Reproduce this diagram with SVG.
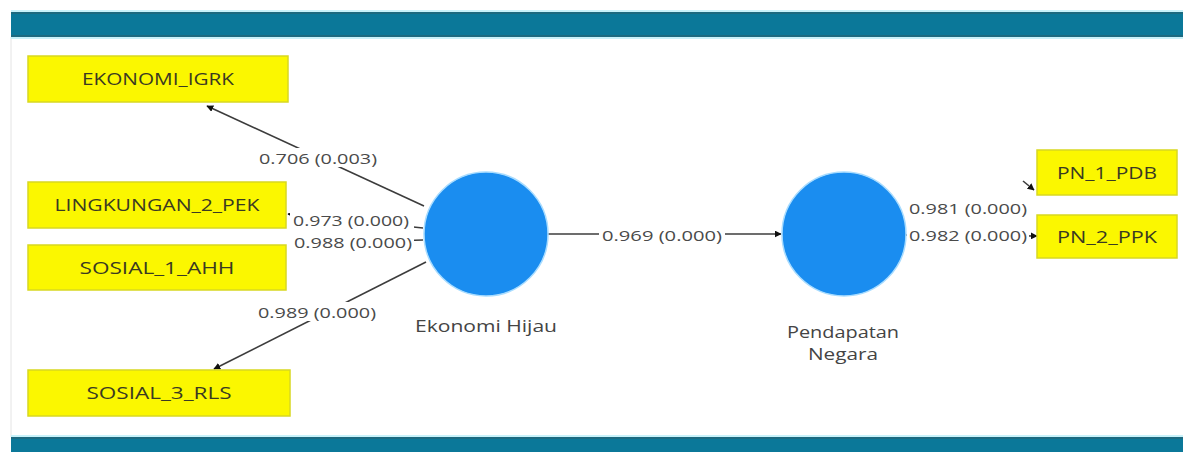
<svg xmlns="http://www.w3.org/2000/svg" width="1183" height="452" viewBox="0 0 1183 452">
<defs>
<style>
.bar{fill:#0b7899}
.box{fill:#fbf700;stroke:#d8d820;stroke-width:1.5}
.btxt{font-family:"Open Sans","Liberation Sans",sans-serif;font-size:16px;fill:#3a3a22;text-anchor:middle;dominant-baseline:central}
.lv{fill:#1a8df0;stroke:#a8dcff;stroke-width:1.5}
.ltxt{font-family:"Open Sans","Liberation Sans",sans-serif;font-size:16px;fill:#444;text-anchor:middle;dominant-baseline:central}
.etxt{font-family:"Open Sans","Liberation Sans",sans-serif;font-size:15px;fill:#4a4a4a;text-anchor:middle;dominant-baseline:central}
.edge{stroke:#3c3c3c;stroke-width:1.6;fill:none}
.lbg{fill:#ffffff}
</style>
<marker id="ah" viewBox="0 0 10 10" refX="9" refY="5" markerWidth="7" markerHeight="7" orient="auto" markerUnits="userSpaceOnUse">
<path d="M0,0 L10,5 L0,10 z" fill="#111"/>
</marker>
</defs>
<rect x="0" y="0" width="1183" height="452" fill="#ffffff"/>
<line x1="11" y1="37" x2="11" y2="437" stroke="#e4e4e4" stroke-width="1"/>
<g id="topbar">
<rect x="11" y="10" width="1172" height="2" fill="#c8f2fa"/>
<rect class="bar" x="11" y="12" width="1172" height="25"/>
<rect x="11" y="12" width="1172" height="2" fill="#1d6a80"/>
<rect x="11" y="35" width="1172" height="2" fill="#1d6a80"/>
<rect x="11" y="37" width="1172" height="2" fill="#c8f2fa"/>
</g>
<g id="bottombar">
<rect x="11" y="435" width="1172" height="2" fill="#c8f2fa"/>
<rect class="bar" x="11" y="437" width="1172" height="15"/>
<rect x="11" y="437" width="1172" height="2" fill="#1d6a80"/>
</g>
<g id="connectors">
<line class="edge" x1="424" y1="206" x2="207" y2="106" marker-end="url(#ah)"/>
<line class="edge" x1="423" y1="228" x2="288" y2="214" marker-end="url(#ah)"/>
<line class="edge" x1="423" y1="240" x2="292" y2="244" marker-end="url(#ah)"/>
<line class="edge" x1="426" y1="262" x2="214" y2="369" marker-end="url(#ah)"/>
<line class="edge" x1="548" y1="234" x2="781" y2="234" marker-end="url(#ah)"/>
<line class="edge" x1="1023" y1="181" x2="1034" y2="190" marker-end="url(#ah)"/>
<line class="edge" x1="906" y1="235" x2="1037" y2="236" marker-end="url(#ah)"/>
<rect class="lbg" x="256" y="148" width="124" height="19"/>
<text class="etxt" x="318" y="157.5" textLength="118" lengthAdjust="spacingAndGlyphs">0.706 (0.003)</text>
<rect class="lbg" x="290" y="211" width="124" height="20"/>
<text class="etxt" x="351" y="220" textLength="116" lengthAdjust="spacingAndGlyphs">0.973 (0.000)</text>
<rect class="lbg" x="286" y="231" width="128" height="20"/>
<text class="etxt" x="353" y="241.5" textLength="118" lengthAdjust="spacingAndGlyphs">0.988 (0.000)</text>
<rect class="lbg" x="256" y="302" width="124" height="19"/>
<text class="etxt" x="317" y="311.5" textLength="118" lengthAdjust="spacingAndGlyphs">0.989 (0.000)</text>
<rect class="lbg" x="599" y="225" width="126" height="20"/>
<text class="etxt" x="662" y="235" textLength="120" lengthAdjust="spacingAndGlyphs">0.969 (0.000)</text>
<rect class="lbg" x="907" y="199" width="122" height="18"/>
<text class="etxt" x="968" y="208" textLength="118" lengthAdjust="spacingAndGlyphs">0.981 (0.000)</text>
<rect class="lbg" x="907" y="226" width="122" height="18"/>
<text class="etxt" x="968" y="235" textLength="118" lengthAdjust="spacingAndGlyphs">0.982 (0.000)</text>
</g>
<g id="EKONOMI_IGRK">
<rect class="box" x="28" y="56" width="260" height="46"/>
<text class="btxt" x="158" y="79" textLength="152" lengthAdjust="spacingAndGlyphs">EKONOMI_IGRK</text>
</g>
<g id="LINGKUNGAN_2_PEK">
<rect class="box" x="28" y="182" width="258" height="46"/>
<text class="btxt" x="157" y="205" textLength="205" lengthAdjust="spacingAndGlyphs">LINGKUNGAN_2_PEK</text>
</g>
<g id="SOSIAL_1_AHH">
<rect class="box" x="28" y="245" width="258" height="45"/>
<text class="btxt" x="157" y="267.5" textLength="155" lengthAdjust="spacingAndGlyphs">SOSIAL_1_AHH</text>
</g>
<g id="SOSIAL_3_RLS">
<rect class="box" x="28" y="370" width="262" height="46"/>
<text class="btxt" x="159" y="393" textLength="145" lengthAdjust="spacingAndGlyphs">SOSIAL_3_RLS</text>
</g>
<g id="PN_1_PDB">
<rect class="box" x="1037" y="150" width="140" height="45"/>
<text class="btxt" x="1107" y="172.5" textLength="100" lengthAdjust="spacingAndGlyphs">PN_1_PDB</text>
</g>
<g id="PN_2_PPK">
<rect class="box" x="1037" y="215" width="140" height="43"/>
<text class="btxt" x="1107" y="236.5" textLength="100" lengthAdjust="spacingAndGlyphs">PN_2_PPK</text>
</g>
<g id="EkonomiHijau">
<circle class="lv" cx="486" cy="234" r="62"/>
<text class="ltxt" x="486" y="326" textLength="142" lengthAdjust="spacingAndGlyphs">Ekonomi Hijau</text>
</g>
<g id="PendapatanNegara">
<circle class="lv" cx="844" cy="234" r="62"/>
<text class="ltxt" x="843" y="332" textLength="112" lengthAdjust="spacingAndGlyphs">Pendapatan</text>
<text class="ltxt" x="843" y="354" textLength="70" lengthAdjust="spacingAndGlyphs">Negara</text>
</g>
</svg>
